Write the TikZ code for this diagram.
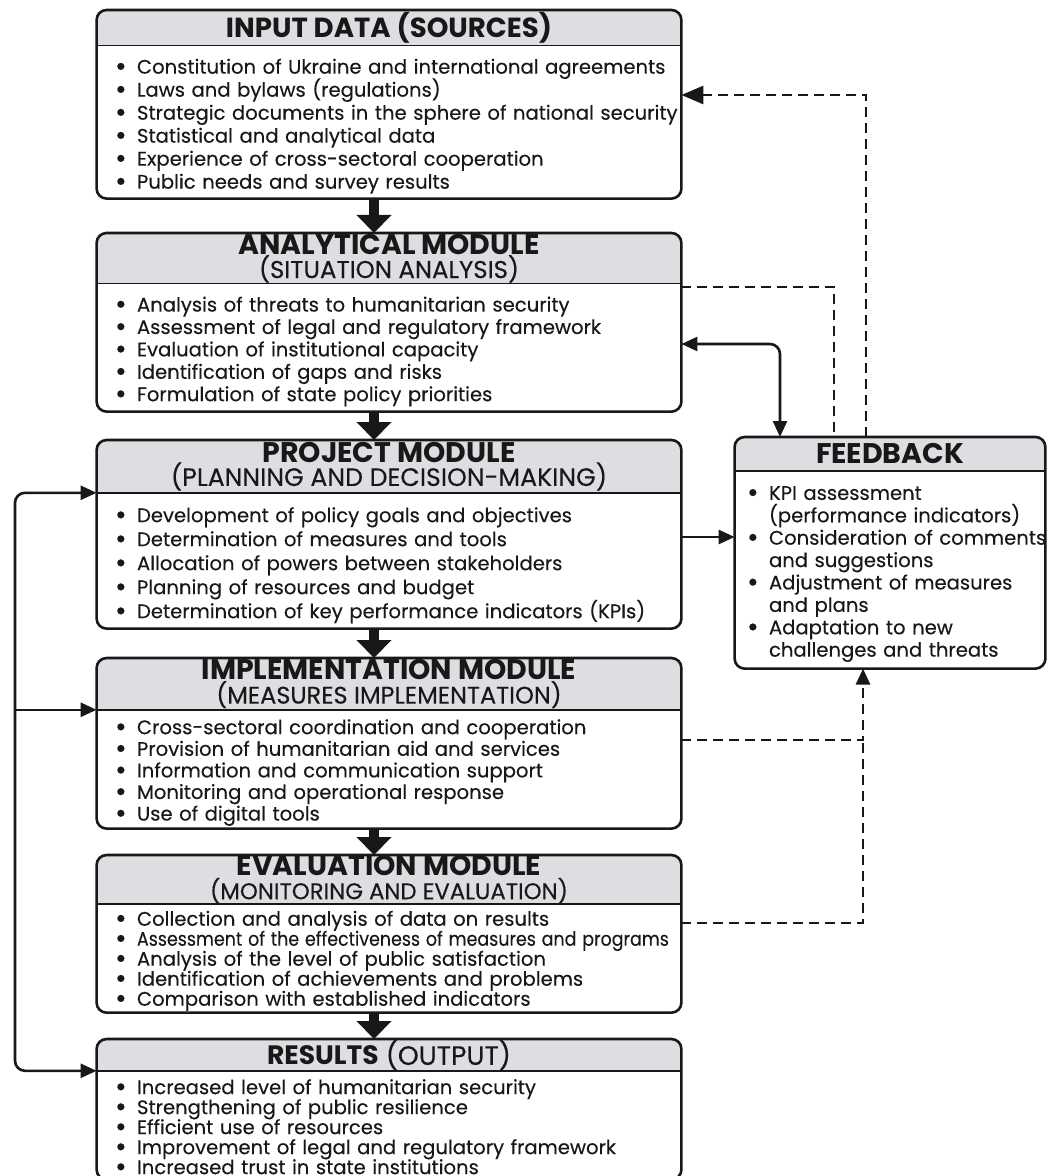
\documentclass[tikz,border=0pt]{standalone}
\usepackage{fontspec}
\setmainfont{Poppins}[UprightFeatures={FakeBold=0.2}]
\usetikzlibrary{positioning, arrows.meta, backgrounds}

\definecolor{headgray}{RGB}{221,222,226}
\definecolor{ink}{RGB}{24,24,24}

% font size with a fixed line pitch
\newcommand{\lsz}[2]{\fontsize{#1}{#2}\selectfont\lineskiplimit=-20pt\lineskip=0pt}
% bullet lines: one line each, or two with the second hanging under the text
\newcommand{\dotb}{\makebox[11pt][l]{\raisebox{-1.1pt}{\scalebox{1.45}{\textbullet}}}}
\newcommand{\itm}[1]{\par\noindent\dotb\mbox{#1}\par}
\newcommand{\twoitm}[2]{\par\noindent\hangindent=11pt\hangafter=1\dotb\mbox{#1}\newline\mbox{#2}\par}
\newcommand{\ttl}[3][11.6]{{\fontsize{14.2}{12}\selectfont\bfseries #2}\\{\fontsize{#1}{12}\selectfont #3}}

\tikzset{
  hdr/.style={minimum width=292pt, inner sep=0pt, align=center, anchor=north, text=ink,
              font=\lsz{11.6}{11.8}},
  lst/.style={minimum width=292pt, inner xsep=9pt, inner ysep=0pt, text width=274pt,
              align=left, anchor=north, text=ink, font=\lsz{9.8}{11.2}},
  bigarr/.style={-{Triangle[width=17pt,length=9pt]}, line width=5pt, ink},
  arr/.style={-{Triangle[width=7pt,length=8pt]}, line width=1.3pt, ink},
  dsh/.style={dash pattern=on 5pt off 3pt, line width=1.4pt, ink},
}

\begin{document}
\begin{tikzpicture}[x=0.5pt, y=-0.5pt]
\useasboundingbox (0,0) rectangle (1047,1176);

% main column
\node[hdr, minimum height=17.5pt] (in-h) at (389,10)
  {\fontsize{13.8}{14}\selectfont\bfseries INPUT DATA (SOURCES)};
\node[lst, minimum height=76pt, below=0pt of in-h, font=\lsz{9.8}{11.5}] (in) {
  \itm{Constitution of Ukraine and international agreements}
  \itm{Laws and bylaws (regulations)}
  \itm{Strategic documents in the sphere of national security}
  \itm{Statistical and analytical data}
  \itm{Experience of cross-sectoral cooperation}
  \itm{Public needs and survey results}};

\node[hdr, minimum height=25pt] (an-h) at (389,233)
  {\ttl[12.2]{ANALYTICAL MODULE}{(SITUATION ANALYSIS)}};
\node[lst, minimum height=63.5pt, below=0pt of an-h] (an) {
  \itm{Analysis of threats to humanitarian security}
  \itm{Assessment of legal and regulatory framework}
  \itm{Evaluation of institutional capacity}
  \itm{Identification of gaps and risks}
  \itm{Formulation of state policy priorities}};

\node[hdr, minimum height=26pt] (pr-h) at (389,440)
  {\ttl[12.6]{PROJECT MODULE}{(PLANNING AND DECISION-MAKING)}};
\node[lst, minimum height=67.5pt, below=0pt of pr-h, font=\lsz{9.8}{12}] (pr) {
  \itm{Development of policy goals and objectives}
  \itm{Determination of measures and tools}
  \itm{Allocation of powers between stakeholders}
  \itm{Planning of resources and budget}
  \itm{Determination of key performance indicators (KPIs)}};

\node[hdr, minimum height=25.5pt] (im-h) at (389,658)
  {\ttl[12]{IMPLEMENTATION MODULE}{(MEASURES IMPLEMENTATION)}};
\node[lst, minimum height=59pt, below=0pt of im-h, font=\lsz{9.8}{10.8}] (im) {
  \itm{Cross-sectoral coordination and cooperation}
  \itm{Provision of humanitarian aid and services}
  \itm{Information and communication support}
  \itm{Monitoring and operational response}
  \itm{Use of digital tools}};

\node[hdr, minimum height=24pt] (ev-h) at (389,855)
  {\ttl[11.4]{EVALUATION MODULE}{(MONITORING AND EVALUATION)}};
\node[lst, minimum height=54pt, below=0pt of ev-h, font=\lsz{9.8}{10}] (ev) {
  \itm{Collection and analysis of data on results}
  \itm{\scalebox{0.89}[1]{Assessment of the effectiveness of measures and programs}}
  \itm{Analysis of the level of public satisfaction}
  \itm{Identification of achievements and problems}
  \itm{Comparison with established indicators}};

\node[hdr, minimum height=15.5pt] (re-h) at (389,1039)
  {\fontsize{13.3}{14}\selectfont\textbf{RESULTS} (OUTPUT)};
\node[lst, minimum height=54pt, below=0pt of re-h, font=\lsz{9.8}{10}] (re) {
  \itm{Increased level of humanitarian security}
  \itm{Strengthening of public resilience}
  \itm{Efficient use of resources}
  \itm{Improvement of legal and regulatory framework}
  \itm{Increased trust in state institutions}};

% feedback block
\node[hdr, minimum width=155pt, minimum height=16.5pt] (fb-h) at (890,437)
  {\fontsize{14.2}{14}\selectfont\bfseries FEEDBACK};
\node[lst, minimum width=155pt, inner xsep=6pt, text width=143pt, minimum height=98.5pt,
      below=0pt of fb-h] (fb) {
  \twoitm{KPI assessment}{(performance indicators)}
  \twoitm{Consideration of comments}{and suggestions}
  \twoitm{Adjustment of measures}{and plans}
  \twoitm{Adaptation to new}{challenges and threats}};

% frames and grey heads
\begin{scope}[on background layer]
  \fill[white] (0,0) rectangle (1047,1176);
  \foreach \m in {in,an,pr,im,ev,re,fb}{
    \begin{scope}
      \clip[rounded corners=5pt] (\m-h.north west) rectangle (\m.south east);
      \fill[headgray] (\m-h.north west) rectangle (\m-h.south east);
    \end{scope}
    \draw[ink, line width=0.7pt] (\m-h.south west) -- (\m-h.south east);
    \draw[ink, line width=1.3pt, rounded corners=5pt] (\m-h.north west) rectangle (\m.south east);
  }
\end{scope}

% routing columns and rows
\coordinate (cM) at (374,0);
\coordinate (cL) at (15,0);
\coordinate (cA) at (780,0);
\coordinate (cB) at (834,0);
\coordinate (cC) at (866,0);
\coordinate (cD) at (863,0);
\coordinate (rA) at (0,95);
\coordinate (rB) at (0,287);
\coordinate (rC) at (0,344);
\coordinate (rD) at (0,537);
\coordinate (rE) at (0,740);
\coordinate (rF) at (0,923);

% main flow
\foreach \a/\b in {in/an-h, an/pr-h, pr/im-h, im/ev-h, ev/re-h}
  \draw[bigarr] (\a.south -| cM) -- (\b.north -| cM);

% return loop on the left
\draw[arr, {Triangle[width=7pt,length=8pt]}-{Triangle[width=7pt,length=8pt]}, rounded corners=5pt]
  (pr-h.south west) -| (cL |- re-h.south west) -- (re-h.south west);
\draw[arr] (cL |- im-h.south west) -- (im-h.south west);

% links with feedback
\draw[arr] (pr.east |- rD) -- (fb.west |- rD);
\draw[arr, {Triangle[width=7pt,length=8pt]}-{Triangle[width=7pt,length=8pt]}, rounded corners=5pt]
  (an.east |- rC) -| (fb-h.north -| cA);
\draw[dsh] (an-h.south east |- rB) -| (fb-h.north -| cB);
\draw[dsh, -{Triangle[width=9pt,length=11pt]}] (fb-h.north -| cC) |- (in.east |- rA);
\draw[dsh, -{Triangle[width=7pt,length=8pt]}] (im.east |- rE) -| (fb.south -| cD);
\draw[dsh] (ev.east |- rF) -| (cD |- rE);

\end{tikzpicture}
\end{document}
